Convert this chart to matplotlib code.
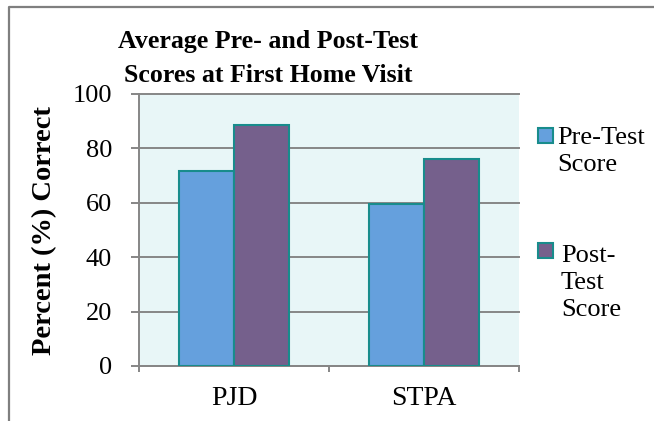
import matplotlib
matplotlib.use("Agg")
import matplotlib.pyplot as plt
import numpy as np
from matplotlib.lines import Line2D
from matplotlib.patches import Rectangle

categories = ["PJD", "STPA"]
pre_test = [71.7, 59.6]
post_test = [88.6, 76.1]
series_labels = ["Pre-Test\nScore", "Post-\nTest\nScore"]
y_ticks = [0, 20, 40, 60, 80, 100]
title = "Average Pre- and Post-Test\nScores at First Home Visit"
y_label = "Percent (%) Correct"

plt.rcParams['font.family'] = ['Liberation Serif', 'DejaVu Serif']

W, H = 654, 421
fig = plt.figure(figsize=(W / 100, H / 100), dpi=100)


def fx(px):
    return px / W


def fy(py):
    return 1 - py / H


gray = '#868686'
blue, purple, edge = '#65A0DD', '#75608C', '#188C8C'

ax = fig.add_axes([fx(139), fy(366), fx(519) - fx(139), fy(94) - fy(366)])
ax.set_facecolor('#E8F6F7')
x = np.arange(len(categories))
bw = 0.287
ax.bar(x - bw / 2, pre_test, bw, color=blue, edgecolor=edge, linewidth=1.5, zorder=3)
ax.bar(x + bw / 2, post_test, bw, color=purple, edgecolor=edge, linewidth=1.5, zorder=3)
ax.set_xlim(-0.5, len(categories) - 0.5)
ax.set_ylim(0, 100)

ax.set_yticks(y_ticks)
ax.set_yticklabels([str(v) for v in y_ticks], fontsize=19)
ax.tick_params(axis='y', length=5.8, width=1.4, color=gray, pad=13.5)
ax.yaxis.grid(True, color=gray, linewidth=1.4)
for gl in ax.get_ygridlines():
    gl.set_clip_on(False)
ax.set_axisbelow(True)

ax.set_xticks(x)
ax.set_xticklabels(categories, fontsize=20)
ax.tick_params(axis='x', which='major', length=0, pad=14.5)
ax.set_xticks(np.arange(len(categories) + 1) - 0.5, minor=True)
ax.tick_params(axis='x', which='minor', length=4.5, width=1.4, color=gray)

for s in ['top', 'right']:
    ax.spines[s].set_visible(False)
for s in ['left', 'bottom']:
    ax.spines[s].set_color(gray)
    ax.spines[s].set_linewidth(1.4)

fig.text(fx(268), fy(82), title, ha='center', va='baseline', fontsize=18.6,
         fontweight='bold', linespacing=1.62)
fig.text(fx(45), fy(231), y_label, ha='center', va='center', rotation=90,
         fontsize=20.5, fontweight='bold')

# legend
leg_sq = [(538, 128), (538, 243)]
leg_txt = [(557, 127), (561, 245)]
for (sx, sy), (tx, ty), lab, col in zip(leg_sq, leg_txt, series_labels, [blue, purple]):
    fig.patches.append(Rectangle((fx(sx), fy(sy + 15)), 15 / W, 15 / H,
                                 facecolor=col, edgecolor=edge, linewidth=1.5,
                                 transform=fig.transFigure, figure=fig))
    fig.text(fx(tx), fy(ty), lab, ha='left', va='top', fontsize=19,
             linespacing=1.28)

fig.add_artist(Line2D([fx(9), fx(9), fx(654)], [fy(421), fy(7), fy(7)],
                      color='#7F7F7F', linewidth=1.6, transform=fig.transFigure))

fig.savefig('out.png', dpi=100)
